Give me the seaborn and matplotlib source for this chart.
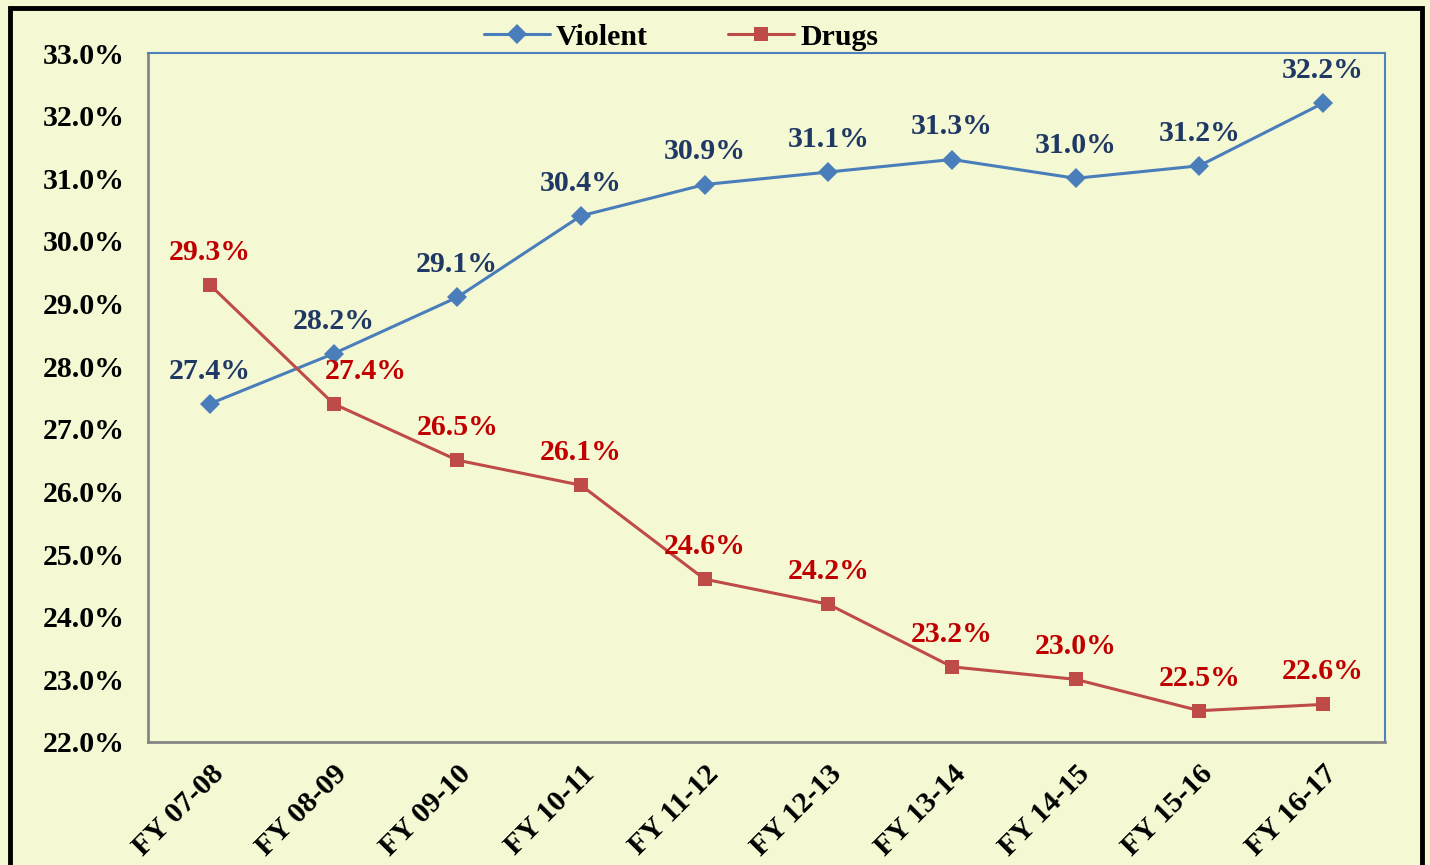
import matplotlib
matplotlib.use("Agg")
import matplotlib.pyplot as plt
from matplotlib.patches import Rectangle
from matplotlib.ticker import PercentFormatter
import pandas as pd
import seaborn as sns

YEARS = ["FY 07-08", "FY 08-09", "FY 09-10", "FY 10-11", "FY 11-12",
         "FY 12-13", "FY 13-14", "FY 14-15", "FY 15-16", "FY 16-17"]
VIOLENT = [27.4, 28.2, 29.1, 30.4, 30.9, 31.1, 31.3, 31.0, 31.2, 32.2]
DRUGS = [29.3, 27.4, 26.5, 26.1, 24.6, 24.2, 23.2, 23.0, 22.5, 22.6]
Y_TICKS = [22, 23, 24, 25, 26, 27, 28, 29, 30, 31, 32, 33]

BG = "#F4F9D4"
LINE_COLORS = {"Violent": "#4A7EBB", "Drugs": "#BE4B48"}
LABEL_COLORS = {"Violent": "#1F3864", "Drugs": "#C00000"}
FS = 21.5


def main():
    df = pd.DataFrame({
        "year": YEARS * 2,
        "pos": list(range(len(YEARS))) * 2,
        "value": VIOLENT + DRUGS,
        "series": ["Violent"] * len(YEARS) + ["Drugs"] * len(YEARS),
    })

    sns.set_style("white")
    plt.rcParams["font.family"] = ["Liberation Serif", "DejaVu Serif"]
    plt.rcParams["font.weight"] = "bold"
    plt.rcParams["text.color"] = "black"
    plt.rcParams["xtick.color"] = "black"
    plt.rcParams["ytick.color"] = "black"

    fig = plt.figure(figsize=(14.3, 8.65), dpi=100, facecolor=BG)
    ax = fig.add_axes([0.1035, 0.1422, 0.865, 0.7965])
    ax.set_facecolor(BG)

    sns.lineplot(data=df, x="pos", y="value", hue="series", style="series",
                 palette=LINE_COLORS, markers={"Violent": "D", "Drugs": "s"},
                 dashes=False, linewidth=2.2, markersize=10,
                 markeredgewidth=0, ax=ax)

    for series, vals in (("Violent", VIOLENT), ("Drugs", DRUGS)):
        for i, v in enumerate(vals):
            dx = 23 if (series == "Drugs" and i == 1) else 0
            ax.annotate(f"{v:.1f}%", (i, v), xytext=(dx, 23.5),
                        textcoords="offset points", ha="center", va="center",
                        fontsize=FS, fontweight="bold",
                        color=LABEL_COLORS[series])

    ax.set_xlim(-0.5, len(YEARS) - 0.5)
    ax.set_ylim(22, 33)
    ax.set_yticks(Y_TICKS)
    ax.yaxis.set_major_formatter(PercentFormatter(decimals=1))
    ax.set_xticks(range(len(YEARS)))
    ax.set_xticklabels(YEARS, rotation=45, ha="right", rotation_mode="anchor")
    ax.tick_params(length=0, labelsize=FS, labelcolor="black")
    ax.tick_params(axis="y", pad=17)
    ax.tick_params(axis="x", pad=13)
    for lab in ax.get_xticklabels() + ax.get_yticklabels():
        lab.set_fontweight("bold")
    ax.set_xlabel("")
    ax.set_ylabel("")

    for side in ("top", "right"):
        ax.spines[side].set_color("#4F81BD")
        ax.spines[side].set_linewidth(1.5)
    for side in ("left", "bottom"):
        ax.spines[side].set_color("#868686")
        ax.spines[side].set_linewidth(2)

    handles, labels = ax.get_legend_handles_labels()
    ax.legend(handles, labels, loc="center", bbox_to_anchor=(0.431, 1.023),
              ncol=2, frameon=False, columnspacing=2.7,
              handlelength=2.2, handletextpad=0.2, labelcolor="black",
              prop={"weight": "bold", "size": FS})

    fig.patches.append(Rectangle((10 / 1430, -0.02), 1412 / 1430, 1.02 - 8 / 865,
                                 transform=fig.transFigure, fill=False,
                                 edgecolor="black", linewidth=3.5))

    fig.savefig("out.png", dpi=100, facecolor=BG)


if __name__ == "__main__":
    main()
